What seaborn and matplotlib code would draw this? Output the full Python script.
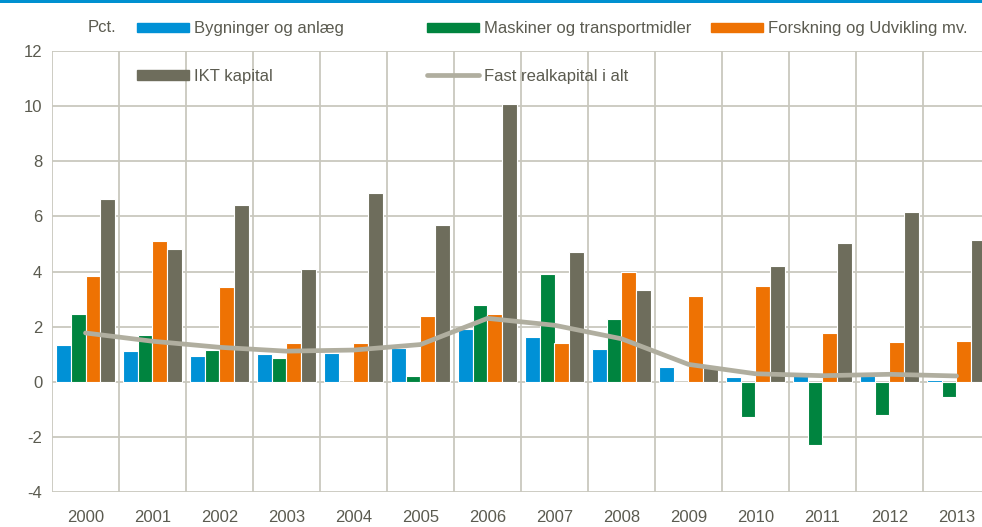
import pandas as pd
import seaborn as sns
import matplotlib.pyplot as plt
from matplotlib.patches import Patch, Rectangle
from matplotlib.lines import Line2D

# values (pct.)
years = [str(y) for y in range(2000, 2014)]
bygninger = [1.35, 1.11, 0.95, 0.99, 1.05, 1.23, 1.92, 1.64, 1.18, 0.54, 0.16, 0.34, 0.20, 0.05]
maskiner = [2.47, 1.68, 1.17, 0.87, 0.0, 0.20, 2.77, 3.91, 2.29, 0.0, -1.27, -2.29, -1.21, -0.57]
forskning = [3.84, 5.10, 3.45, 1.42, 1.42, 2.40, 2.47, 1.42, 3.99, 3.12, 3.47, 1.77, 1.43, 1.48]
ikt = [6.62, 4.81, 6.43, 4.08, 6.83, 5.67, 10.07, 4.72, 3.32, 0.57, 4.19, 5.03, 6.15, 5.14]
fast_total = [1.77, 1.47, 1.25, 1.11, 1.15, 1.35, 2.30, 2.05, 1.56, 0.63, 0.29, 0.22, 0.27, 0.21]

series = ['Bygninger og anlæg', 'Maskiner og transportmidler',
          'Forskning og Udvikling mv.', 'IKT kapital']
line_label = 'Fast realkapital i alt'
colors = ['#0091D6', '#00843F', '#EE7203', '#6E6D5C']
line_color = '#B0AE9F'
grid_color = '#C9C8BE'
text_color = '#5B5B50'

df = pd.DataFrame({
    'aar': years * 4,
    'serie': [s for s in series for _ in years],
    'pct': bygninger + maskiner + forskning + ikt,
})

sns.set_theme(style='white')
plt.rcParams['font.family'] = ['Liberation Sans', 'DejaVu Sans']
plt.rcParams['axes.unicode_minus'] = False

fig = plt.figure(figsize=(9.82, 5.27), dpi=100)
ax = fig.add_axes([52 / 982, 1 - 492 / 527, 938 / 982, 441 / 527])

sns.barplot(data=df, x='aar', y='pct', hue='serie', hue_order=series,
            palette=colors, saturation=1, width=0.87, edgecolor='white',
            linewidth=0.8, legend=False, ax=ax, zorder=2)
sns.pointplot(x=years, y=fast_total, color=line_color, markers='',
              errorbar=None, ax=ax, linewidth=3.4, solid_capstyle='round',
              zorder=3)

ax.set_xlim(-0.5, 13.5)
ax.set_ylim(-4, 12)
ax.set_yticks(range(-4, 13, 2))
ax.set_yticklabels([str(v) for v in range(-4, 13, 2)])
ax.set_xticks([i - 0.5 for i in range(15)], minor=True)
ax.set_axisbelow(True)
ax.yaxis.grid(True, color=grid_color, lw=1.3)
ax.xaxis.grid(True, which='minor', color=grid_color, lw=1.3)
ax.xaxis.grid(False, which='major')
for sp in ax.spines.values():
    sp.set_visible(False)
ax.tick_params(axis='both', which='both', length=0, labelsize=12,
               labelcolor=text_color)
ax.tick_params(axis='x', pad=13)
ax.tick_params(axis='y', pad=7)
ax.set_xlabel('')
ax.set_ylabel('')

# legend in three fixed columns like the original
leg_kw = dict(frameon=False, fontsize=12, handlelength=3.1, handleheight=0.5,
              handletextpad=0.3, borderpad=0, borderaxespad=0, labelspacing=1.93,
              loc='upper left', labelcolor=text_color)
top = 1 - 21.5 / 527
fig.legend([Patch(color=colors[0]), Patch(color=colors[3])],
           [series[0], series[3]], bbox_to_anchor=(137 / 982, top), **leg_kw)
fig.legend([Patch(color=colors[1]), Line2D([], [], color=line_color, lw=3.4)],
           [series[1], line_label], bbox_to_anchor=(427 / 982, top), **leg_kw)
fig.legend([Patch(color=colors[2])], [series[2]],
           bbox_to_anchor=(711 / 982, top), **leg_kw)

fig.text(88 / 982, 1 - 28 / 527, 'Pct.', fontsize=12, color=text_color,
         va='center', ha='left')
fig.add_artist(Rectangle((0, 1 - 3 / 527), 1, 3 / 527, transform=fig.transFigure,
                         color='#0090D0', lw=0))

fig.savefig('out.png', dpi=100)
